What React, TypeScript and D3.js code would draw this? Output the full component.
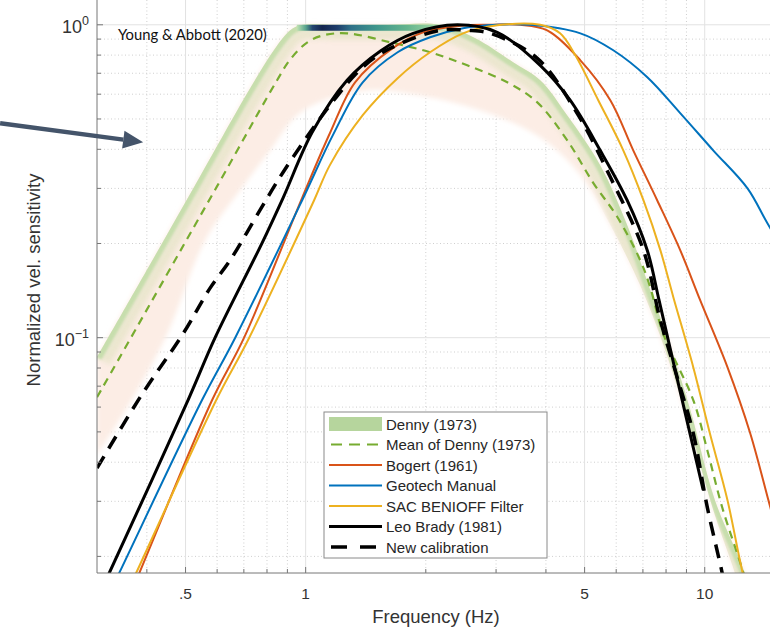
import * as d3 from "d3";

type Pt = [number, number];

// axes
const freqDomain: [number, number] = [0.3, 15];
const sensDomain: [number, number] = [0.0177, 1.35];
const xTicks = [0.5, 1, 5, 10];
const xTickLabels = [".5", "1", "5", "10"];
const xMinorTicks = [0.4, 0.6, 0.7, 0.8, 0.9, 2, 3, 4, 6, 7, 8, 9];
const yTicks = [0.1, 1];
const yTickExponents = ["\u22121", "0"];
const yMinorTicks = [0.02, 0.03, 0.04, 0.05, 0.06, 0.07, 0.08, 0.09, 0.2, 0.3, 0.4, 0.5, 0.6, 0.7, 0.8, 0.9];

// Denny (1973) envelope, upper and lower edge
const dennyUpper: Pt[] = [
  [0.3, 0.0866], [0.408, 0.172], [0.544, 0.328], [0.726, 0.627], [0.839, 0.841], [0.915, 0.96],
  [0.97, 0.996], [1.2, 1.0], [1.6, 1.0], [2.17, 1.0], [2.66, 0.906], [3.31, 0.759], [3.87, 0.665],
  [4.52, 0.514], [5.47, 0.356], [6.39, 0.229], [7.3, 0.142], [8.19, 0.0946], [9.2, 0.0587],
  [10.6, 0.0303], [12.6, 0.0177], [13.1, 0.0145],
];
const dennyLower: Pt[] = [
  [0.3, 0.0421], [0.37, 0.0645], [0.45, 0.103], [0.56, 0.205], [0.685, 0.296], [0.815, 0.397],
  [0.952, 0.514], [1.15, 0.582], [1.45, 0.618], [1.86, 0.6], [2.74, 0.533], [3.87, 0.437],
  [4.88, 0.331], [5.8, 0.229], [6.89, 0.147], [7.96, 0.0912], [9.2, 0.0506], [10.6, 0.0271],
  [11.9, 0.0177], [12.4, 0.0145],
];
// where the densest part of the envelope sits, along the top
const dennyPeakFreq = [0.95, 2.25];
const dennyPeakSens = [1.0, 0.957];
const dennyPeakColors: [number, string][] = [
  [0.95, "#c2e3b3"], [1.0, "#5aa58e"], [1.04, "#24456f"], [1.1, "#14244e"], [1.2, "#1e3c6a"],
  [1.3, "#2f7187"], [1.5, "#3f968b"], [1.8, "#66b58d"], [2.1, "#9ad2a0"], [2.25, "#d8edcf"],
];

const dennyMean: Pt[] = [
  [0.3, 0.0645], [0.6, 0.305], [0.848, 0.665], [0.915, 0.775], [1.01, 0.879], [1.11, 0.926],
  [1.27, 0.939], [1.63, 0.879], [2.05, 0.817], [2.54, 0.742], [3.2, 0.655], [3.8, 0.566],
  [4.52, 0.428], [5.26, 0.312], [6.04, 0.243], [6.89, 0.177], [7.3, 0.145], [7.87, 0.103],
  [9.36, 0.0632], [10.15, 0.0437], [11.06, 0.0287], [12.5, 0.0177], [13.0, 0.0145],
];
const bogert: Pt[] = [
  [0.343, 0.0127], [0.383, 0.0177], [0.583, 0.0632], [0.701, 0.1], [0.98, 0.28], [1.15, 0.45],
  [1.33, 0.655], [1.65, 0.841], [1.97, 0.946], [2.44, 0.993], [2.9, 1.0], [3.45, 1.0], [4.03, 0.96],
  [4.88, 0.77], [5.8, 0.574], [6.62, 0.397], [7.6, 0.275], [8.68, 0.1905], [9.74, 0.1318],
  [11.4, 0.0805], [13.0, 0.0495], [14.6, 0.0287], [15.9, 0.0195],
];
const geotech: Pt[] = [
  [0.3, 0.0126], [0.341, 0.0177], [0.55, 0.0632], [0.666, 0.1], [0.98, 0.275], [1.17, 0.444],
  [1.39, 0.655], [1.7, 0.817], [2.05, 0.912], [2.48, 0.975], [3.02, 1.0], [3.65, 1.0], [4.88, 0.939],
  [5.9, 0.829], [7.18, 0.68], [8.68, 0.522], [10.5, 0.397], [12.8, 0.3], [14.6, 0.224], [17.4, 0.164],
];
const sacBenioff: Pt[] = [
  [0.333, 0.0127], [0.376, 0.0177], [0.597, 0.0632], [0.722, 0.1], [1.05, 0.275], [1.15, 0.356],
  [1.39, 0.514], [1.7, 0.675], [2.05, 0.817], [2.48, 0.939], [3.02, 0.996], [3.87, 1.0], [4.34, 0.939],
  [4.74, 0.799], [5.41, 0.574], [6.25, 0.397], [7.02, 0.275], [7.74, 0.1905], [8.34, 0.135],
  [9.36, 0.0805], [10.3, 0.0495], [11.4, 0.0303], [12.4, 0.0181], [13.0, 0.0145],
];
const leoBrady: Pt[] = [
  [0.3, 0.0146], [0.322, 0.0177], [0.508, 0.0634], [0.593, 0.1], [0.778, 0.201], [0.878, 0.28],
  [1.04, 0.455], [1.27, 0.665], [1.54, 0.825], [1.86, 0.939], [2.4, 1.0], [3.02, 0.946], [3.87, 0.742],
  [4.6, 0.574], [5.47, 0.397], [6.39, 0.275], [7.18, 0.19], [7.68, 0.132], [8.21, 0.0912],
  [8.78, 0.0632], [9.91, 0.0326],
];
const newCalibration: Pt[] = [
  [0.3, 0.0383], [0.385, 0.0646], [0.493, 0.103], [0.576, 0.144], [0.647, 0.177], [0.769, 0.256],
  [0.878, 0.338], [1.15, 0.553], [1.39, 0.732], [1.63, 0.841], [2.17, 0.96], [2.54, 0.96], [2.9, 0.939],
  [3.8, 0.782], [4.74, 0.533], [5.8, 0.326], [7.02, 0.1905], [7.74, 0.1137], [8.53, 0.0748],
  [9.36, 0.0495], [10.15, 0.0287], [11.06, 0.0177], [11.4, 0.0145],
];

const legendLabels = [
  "Denny (1973)", "Mean of Denny (1973)", "Bogert (1961)", "Geotech Manual",
  "SAC BENIOFF Filter", "Leo Brady (1981)", "New calibration",
];

// annotation arrow, in data units
const arrowFrom: Pt = [0.1715, 0.4844];
const arrowTo: Pt = [0.3915, 0.4213];

const RED = "#D95319";
const BLUE = "#0072BD";
const YELLOW = "#EDB120";
const GREEN = "#77AC30";
const FONT = "'Liberation Sans', Arial, Helvetica, sans-serif";

const width = 770;
const height = 627;
const plot = { left: 97, right: 775, top: -16, bottom: 573 };

export default function App() {
  const x = d3.scaleLog().domain(freqDomain).range([plot.left, plot.right]);
  const y = d3.scaleLog().domain(sensDomain).range([plot.bottom, plot.top]);

  const line = d3
    .line<Pt>()
    .x((d) => x(d[0]))
    .y((d) => y(d[1]))
    .curve(d3.curveCatmullRom.alpha(0.5));

  const bandPath =
    line(dennyUpper) + (line([...dennyLower].reverse()) || "").replace(/^M/, "L") + "Z";

  const px0 = x(dennyPeakFreq[0]);
  const px1 = x(dennyPeakFreq[1]);

  // arrow geometry
  const ax0 = x(arrowFrom[0]), ay0 = y(arrowFrom[1]);
  const ax1 = x(arrowTo[0]), ay1 = y(arrowTo[1]);
  const ang = Math.atan2(ay1 - ay0, ax1 - ax0);
  const headLen = 20, headHalf = 9;
  const bx = ax1 - headLen * Math.cos(ang), by = ay1 - headLen * Math.sin(ang);
  const head = [
    [ax1, ay1],
    [bx + headHalf * Math.sin(ang), by - headHalf * Math.cos(ang)],
    [bx - headHalf * Math.sin(ang), by + headHalf * Math.cos(ang)],
  ];

  const curves = [
    { data: bogert, color: RED, w: 2, dash: undefined },
    { data: geotech, color: BLUE, w: 2, dash: undefined },
    { data: sacBenioff, color: YELLOW, w: 2, dash: undefined },
    { data: leoBrady, color: "#000", w: 3, dash: undefined },
    { data: newCalibration, color: "#000", w: 3.5, dash: "14 9" },
  ];

  const legendX = 324, legendY = 412, legendW = 223, legendH = 146;
  const rowH = 20.5;

  return (
    <div style={{ position: "absolute", left: 0, top: 0 }}>
      <svg width={width} height={height} style={{ display: "block", background: "#fff" }}>
        <defs>
          <clipPath id="plot-clip">
            <rect x={plot.left} y={0} width={plot.right - plot.left} height={plot.bottom} />
          </clipPath>
          <clipPath id="band-clip">
            <path d={bandPath} />
          </clipPath>
          <filter id="soft" x="-10%" y="-10%" width="120%" height="120%">
            <feGaussianBlur stdDeviation="2.5" />
          </filter>
          <filter id="softer" x="-10%" y="-10%" width="120%" height="120%">
            <feGaussianBlur stdDeviation="1.2" />
          </filter>
          <linearGradient id="peak-grad" gradientUnits="userSpaceOnUse" x1={px0} x2={px1} y1={0} y2={0}>
            {dennyPeakColors.map(([f, c]) => (
              <stop key={f} offset={(x(f) - px0) / (px1 - px0)} stopColor={c} />
            ))}
          </linearGradient>
        </defs>

        {/* grid */}
        <g>
          {xMinorTicks.map((t) => (
            <line key={"xm" + t} x1={x(t)} x2={x(t)} y1={0} y2={plot.bottom}
              stroke="#cfcfcf" strokeDasharray="1 2.5" />
          ))}
          {yMinorTicks.map((t) => (
            <line key={"ym" + t} x1={plot.left} x2={width} y1={y(t)} y2={y(t)}
              stroke="#cfcfcf" strokeDasharray="1 2.5" />
          ))}
          {xTicks.map((t) => (
            <line key={"xg" + t} x1={x(t)} x2={x(t)} y1={0} y2={plot.bottom} stroke="#e2e2e2" />
          ))}
          {yTicks.map((t) => (
            <line key={"yg" + t} x1={plot.left} x2={width} y1={y(t)} y2={y(t)} stroke="#e2e2e2" />
          ))}
        </g>

        <g clipPath="url(#plot-clip)">
          {/* Denny envelope */}
          <path d={bandPath} fill="#fcede5" filter="url(#soft)" />
          <g clipPath="url(#band-clip)">
            <path d={line(dennyUpper) || ""} fill="none" stroke="#e6e4c8" strokeWidth={30}
              opacity={0.75} filter="url(#soft)" />
            <path d={line(dennyUpper) || ""} fill="none" stroke="#bedba4" strokeWidth={10}
              opacity={0.8} filter="url(#softer)" />
          </g>
          <rect x={px0} width={px1 - px0} y={y(dennyPeakSens[0])}
            height={y(dennyPeakSens[1]) - y(dennyPeakSens[0])} fill="url(#peak-grad)" />

          <path d={line(dennyMean) || ""} fill="none" stroke={GREEN} strokeWidth={2.2}
            strokeDasharray="8 6" />
          {curves.map((c, i) => (
            <path key={i} d={line(c.data) || ""} fill="none" stroke={c.color}
              strokeWidth={c.w} strokeDasharray={c.dash} />
          ))}
        </g>

        {/* axes */}
        <g stroke="#777" strokeWidth={1}>
          <line x1={plot.left} x2={plot.left} y1={0} y2={plot.bottom} />
          <line x1={plot.left} x2={width} y1={plot.bottom} y2={plot.bottom} />
          {xTicks.map((t) => (
            <line key={"xt" + t} x1={x(t)} x2={x(t)} y1={plot.bottom} y2={plot.bottom - 6} />
          ))}
          {xMinorTicks.map((t) => (
            <line key={"xmt" + t} x1={x(t)} x2={x(t)} y1={plot.bottom} y2={plot.bottom - 4} />
          ))}
          {yTicks.map((t) => (
            <line key={"yt" + t} x1={plot.left} x2={plot.left + 6} y1={y(t)} y2={y(t)} />
          ))}
          {yMinorTicks.map((t) => (
            <line key={"ymt" + t} x1={plot.left} x2={plot.left + 4} y1={y(t)} y2={y(t)} />
          ))}
        </g>
        <g fontFamily={FONT} fill="#333">
          {xTicks.map((t, i) => (
            <text key={"xl" + t} x={x(t)} y={plot.bottom + 26} fontSize={15.5} textAnchor="middle">
              {xTickLabels[i]}
            </text>
          ))}
          {yTicks.map((t, i) => (
            <text key={"yl" + t} x={plot.left - 8} y={y(t) + 8} fontSize={18} textAnchor="end">
              10
              <tspan fontSize={12.5} dy={-8}>{yTickExponents[i]}</tspan>
            </text>
          ))}
          <text x={(plot.left + plot.right) / 2} y={plot.bottom + 50} fontSize={18.5} textAnchor="middle">
            Frequency (Hz)
          </text>
          <text transform={`translate(40,${280}) rotate(-90)`} fontSize={18.5} textAnchor="middle">
            Normalized vel. sensitivity
          </text>
        </g>

        {/* legend */}
        <g fontFamily={FONT}>
          <rect x={legendX} y={legendY} width={legendW} height={legendH} fill="#fff" stroke="#8a8a8a" />
          {legendLabels.map((label, i) => {
            const cy = legendY + 12 + i * rowH;
            const sx0 = legendX + 5, sx1 = legendX + 58;
            let swatch;
            if (i === 0) {
              swatch = <rect x={sx0} y={cy - 7} width={sx1 - sx0} height={14} fill="#b6d59d" />;
            } else if (i === 1) {
              swatch = <line x1={sx0 + 2} x2={sx1} y1={cy} y2={cy} stroke={GREEN} strokeWidth={2.2} strokeDasharray="11 7" />;
            } else if (i === 6) {
              swatch = <line x1={sx0 + 2} x2={sx1} y1={cy} y2={cy} stroke="#000" strokeWidth={3.5} strokeDasharray="16 13" />;
            } else {
              const c = curves[i - 2];
              swatch = <line x1={sx0} x2={sx1} y1={cy} y2={cy} stroke={c.color} strokeWidth={c.w} />;
            }
            return (
              <g key={label}>
                {swatch}
                <text x={sx1 + 4} y={cy + 5.5} fontSize={15} fill="#262626">{label}</text>
              </g>
            );
          })}
        </g>

        {/* slide annotations */}
        <text x={118} y={40} fontFamily="Lato, 'Open Sans', sans-serif" fontSize={14.8} fill="#111">
          Young &amp; Abbott (2020)
        </text>
        <line x1={ax0} y1={ay0} x2={bx} y2={by} stroke="#44546A" strokeWidth={4.5} />
        <polygon points={head.map((p) => p.join(",")).join(" ")} fill="#44546A" />
      </svg>
    </div>
  );
}
